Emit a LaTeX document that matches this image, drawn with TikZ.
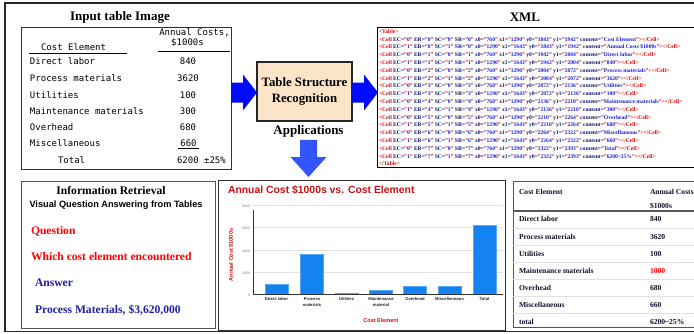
\documentclass[tikz,border=0pt]{standalone}
\usepackage{fontspec}
\setmainfont{Liberation Serif}
\setsansfont{Liberation Sans}
\setmonofont{DejaVu Sans Mono}
\usetikzlibrary{calc}

\definecolor{tagred}{RGB}{224,0,0}
\definecolor{attrnavy}{RGB}{20,20,110}
\definecolor{valblue}{RGB}{30,30,210}
\definecolor{qred}{RGB}{255,0,0}
\definecolor{ansnavy}{RGB}{30,30,160}
\definecolor{peach}{RGB}{252,228,200}
\definecolor{arrowblue}{RGB}{0,10,255}
\definecolor{downblue}{RGB}{50,85,255}
\definecolor{barblue}{RGB}{20,130,240}
\definecolor{chartred}{RGB}{200,16,16}
\definecolor{gridgrey}{RGB}{225,225,225}
\definecolor{boxgrey}{RGB}{85,85,85}
\definecolor{tblink}{RGB}{16,16,40}

% XML listing helpers
\newcommand\xmlattr[2]{{\color{attrnavy}#1=}{\color{tagred}"}{\color{valblue}#2}{\color{tagred}"}}
\newcommand\xmlcell[9]{{\color{tagred}<Cell} \xmlattr{EC}{#1} \xmlattr{ER}{#2} \xmlattr{SC}{#3} \xmlattr{SR}{#4} \xmlattr{x0}{#5} \xmlattr{x1}{#6} \xmlattr{y0}{#7} \xmlattr{y1}{#8} \xmlattr{content}{#9}{\color{tagred}></Cell>}}

\begin{document}
\begin{tikzpicture}[x=1pt,y=-1pt,
  txt/.style={inner sep=0pt,outer sep=0pt},
  frame/.style={draw,inner sep=0pt,outer sep=0pt,anchor=north west},
  title/.style={txt,font=\fontsize{13}{15}\selectfont\bfseries},
  mono/.style={txt,font=\ttfamily\fontsize{9}{11}\selectfont},
  xmltxt/.style={txt,anchor=mid west,font=\fontsize{5.6}{7}\selectfont\bfseries},
  irtxt/.style={txt,anchor=mid west,font=\fontsize{11.6}{14}\selectfont\bfseries},
  rtxt/.style={txt,anchor=mid west,text=tblink,font=\fontsize{7.6}{9}\selectfont\bfseries},
  tick/.style={txt,anchor=mid east,text=gray,font=\sffamily\fontsize{3.5}{4}\selectfont},
  xlab/.style={txt,align=center,text=black!85,font=\sffamily\bfseries\fontsize{4.2}{6}\selectfont},
  bar/.style={fill=barblue,draw=barblue!70!white,line width=0.4pt},
  sidearrow/.style={fill=arrowblue},
  downarrow/.style={fill=downblue}
]
\useasboundingbox (0,0) rectangle (694,333);
\clip (0,0) rectangle (694,333);

% outer frame
\node[frame,line width=1.3pt,draw=black!85,minimum width=715pt,minimum height=328.5pt] (outer) at (5,3) {};

% ---------- input table image ----------
\node[title] (inTitle) at (120,17) {Input table Image};
\node[frame,line width=0.9pt,draw=black!80,minimum width=210pt,minimum height=142pt] (intbl) at (21,27) {};
\node[mono,anchor=mid] (hA) at (194.5,33) {Annual Costs,};
\node[mono,anchor=mid] (hB) at (187.5,43) {\$1000s};
\node[mono,anchor=mid west] (hC) at (41,48) {Cost Element};
\draw[line width=0.8pt] (29,53.5) coordinate (ulA) -- (127,53.5) coordinate (ulB);
\draw[line width=0.8pt] (158,51.5) coordinate (ulC) -- (230,51.5) coordinate (ulD);
\node[mono,anchor=mid west] (r1) at (30,62.5) {Direct labor};
\node[mono,anchor=mid west] (r2) at (30,79.5) {Process materials};
\node[mono,anchor=mid west] (r3) at (30,96.5) {Utilities};
\node[mono,anchor=mid west] (r4) at (30,112.5) {Maintenance materials};
\node[mono,anchor=mid west] (r5) at (30,128.5) {Overhead};
\node[mono,anchor=mid west] (r6) at (30,144.5) {Miscellaneous};
\node[mono,anchor=mid west] (r7) at (58,161.5) {Total};
\node[mono,anchor=mid] (v1) at (188,62) {840};
\node[mono,anchor=mid] (v2) at (188,79) {3620};
\node[mono,anchor=mid] (v3) at (188,96) {100};
\node[mono,anchor=mid] (v4) at (188,112) {300};
\node[mono,anchor=mid] (v5) at (188,128) {680};
\node[mono,anchor=mid] (v6) at (188.5,144) {660};
\node[mono,anchor=mid west] (v7) at (177,161) {6200 ±25\%};
\draw[line width=0.8pt] (178,148.5) coordinate (ulE) -- (199,148.5) coordinate (ulF);

% ---------- recognition step ----------
\node[draw=black!85,line width=1.1pt,fill=peach,minimum width=95pt,minimum height=59pt,
      inner sep=0pt,outer sep=0pt,align=center,
      font=\fontsize{12.8}{16}\selectfont\bfseries] (tsr) at (304.5,91.5) {Table Structure\\Recognition};
\node[txt,font=\fontsize{13}{15}\selectfont\bfseries] (apps) at (308.5,131) {Applications};

% ---------- XML output ----------
\node[title] (xmlTitle) at (525,17) {XML};
\node[frame,line width=0.9pt,draw=black,minimum width=330pt,minimum height=140pt] (xmlbox) at (377,27) {};
\node[xmltxt] (xl0) at (379,30.8) {\color{tagred}<Table>};
\node[xmltxt] (xl1) at (379,38.8) {\xmlcell{0}{0}{0}{0}{760}{1290}{1843}{1942}{Cost Element}};
\node[xmltxt] (xl2) at (379,46.6) {\xmlcell{1}{0}{1}{0}{1290}{1643}{1843}{1942}{Annual Costs \$1000s}};
\node[xmltxt] (xl3) at (379,54.4) {\xmlcell{0}{1}{0}{1}{760}{1290}{1942}{2004}{Direct labor}};
\node[xmltxt] (xl4) at (379,62.2) {\xmlcell{1}{1}{1}{1}{1290}{1643}{1942}{2004}{840}};
\node[xmltxt] (xl5) at (379,70) {\xmlcell{0}{2}{0}{2}{760}{1290}{2004}{2072}{Process materials}};
\node[xmltxt] (xl6) at (379,77.8) {\xmlcell{1}{2}{1}{2}{1290}{1643}{2004}{2072}{3620}};
\node[xmltxt] (xl7) at (379,85.6) {\xmlcell{0}{3}{0}{3}{760}{1290}{2072}{2136}{Utilities}};
\node[xmltxt] (xl8) at (379,93.4) {\xmlcell{1}{3}{1}{3}{1290}{1643}{2072}{2136}{100}};
\node[xmltxt] (xl9) at (379,101.2) {\xmlcell{0}{4}{0}{4}{760}{1290}{2136}{2210}{Maintenance materials}};
\node[xmltxt] (xl10) at (379,109) {\xmlcell{1}{4}{1}{4}{1290}{1643}{2136}{2210}{300}};
\node[xmltxt] (xl11) at (379,116.8) {\xmlcell{0}{5}{0}{5}{760}{1290}{2210}{2264}{Overhead}};
\node[xmltxt] (xl12) at (379,124.6) {\xmlcell{1}{5}{1}{5}{1290}{1643}{2210}{2264}{680}};
\node[xmltxt] (xl13) at (379,132.4) {\xmlcell{0}{6}{0}{6}{760}{1290}{2264}{2322}{Miscellaneous}};
\node[xmltxt] (xl14) at (379,140.2) {\xmlcell{1}{6}{1}{6}{1290}{1643}{2264}{2322}{660}};
\node[xmltxt] (xl15) at (379,148) {\xmlcell{0}{7}{0}{7}{760}{1290}{2322}{2393}{Total}};
\node[xmltxt] (xl16) at (379,155.8) {\xmlcell{1}{7}{1}{7}{1290}{1643}{2322}{2393}{6200\textasciitilde25\%}};
\node[xmltxt] (xl17) at (379,163.3) {\color{tagred}</Table>};

% ---------- information retrieval panel ----------
\node[frame,line width=1pt,draw=boxgrey,minimum width=194pt,minimum height=147pt] (irbox) at (21,181) {};
\node[txt,font=\fontsize{11.6}{14}\selectfont\bfseries] (irTitle) at (111,190) {Information Retrieval};
\node[txt,font=\sffamily\bfseries\fontsize{9.2}{11}\selectfont] (irSub) at (116,205) {Visual Question Answering from Tables};
\node[irtxt,text=qred] (q1) at (31,232) {Question};
\node[irtxt,text=qred] (q2) at (31,258) {Which cost element encountered};
\node[irtxt,text=ansnavy] (a1) at (35,284) {Answer};
\node[irtxt,text=ansnavy] (a2) at (35,311) {Process Materials, \$3,620,000};

% ---------- bar chart panel ----------
\node[frame,line width=1pt,draw=black!80,minimum width=287pt,minimum height=150pt] (chart) at (218,180) {};
\node[txt,anchor=mid west,text=chartred,font=\sffamily\bfseries\fontsize{10.4}{12}\selectfont] (chTitle) at (228,191) {Annual Cost \$1000s vs. Cost Element};
\foreach \v/\yy in {8000/205,6000/227,4000/250,2000/272}{
  \draw[gridgrey,line width=0.6pt] (253,\yy) -- (503,\yy);
  \node[tick] (t\v) at (250,\yy) {\v};
}
\node[tick] (t0) at (250,294) {0};
\foreach \cx/\val in {276.5/840,312/3620,346.5/100,381/300,415/680,449.5/660,484.5/6200}{
  \fill[bar] (\cx-11.5,294) rectangle (\cx+11.5,{294-\val*0.011125});
}
\draw[black!80,line width=0.8pt] (253,210) coordinate (axTop) -- (253,294) coordinate (axO) -- (503,294) coordinate (axEnd);
\node[xlab,anchor=north] (xl-a) at (276.5,297.5) {Direct labor};
\node[xlab,anchor=north] (xl-b) at (312,297.5) {Process\\materials};
\node[xlab,anchor=north] (xl-c) at (346.5,297.5) {Utilities};
\node[xlab,anchor=north] (xl-d) at (381,297.5) {Maintenance\\material};
\node[xlab,anchor=north] (xl-e) at (415,297.5) {Overhead};
\node[xlab,anchor=north] (xl-f) at (449.5,297.5) {Miscellaneous};
\node[xlab,anchor=north] (xl-g) at (484.5,297.5) {Total};
\node[txt,text=chartred,font=\sffamily\bfseries\fontsize{5.5}{7}\selectfont] (xTitle) at (381,321) {Cost Element};
\node[txt,text=chartred,rotate=90,font=\sffamily\bfseries\fontsize{5.5}{7}\selectfont] (yTitle) at (231,255) {Annual Cost \$1000s};

% ---------- rendered table panel ----------
\node[frame,line width=1pt,draw=boxgrey,minimum width=200pt,minimum height=146pt] (rtbl) at (513,181) {};
\node[rtxt] (rh1) at (519,192) {Cost Element};
\node[rtxt] (rh2) at (650,192) {Annual Costs};
\node[rtxt] (rh3) at (650,206) {\$1000s};
\draw[black!65,line width=1.4pt] (513,211) coordinate (hl1) -- (700,211) coordinate (hl2);
\foreach \yy in {228,245.5,262.5,279.5,296.5,313.5}{
  \draw[gridgrey,line width=0.6pt] (513,\yy) -- (700,\yy);
}
\node[rtxt] (rl1) at (519,219) {Direct labor};
\node[rtxt] (rl2) at (519,237) {Process materials};
\node[rtxt] (rl3) at (519,254) {Utilities};
\node[rtxt] (rl4) at (519,271) {Maintenance materials};
\node[rtxt] (rl5) at (519,288) {Overhead};
\node[rtxt] (rl6) at (519,305) {Miscellaneous};
\node[rtxt] (rl7) at (519,322) {total};
\node[rtxt] (rv1) at (650,219) {840};
\node[rtxt] (rv2) at (650,237) {3620};
\node[rtxt] (rv3) at (650,254) {100};
\node[rtxt,text=qred] (rv4) at (650,271) {1000};
\node[rtxt] (rv5) at (650,288) {680};
\node[rtxt] (rv6) at (650,305) {660};
\node[rtxt] (rv7) at (650,322) {6200\textasciitilde25\%};

% ---------- block arrows ----------
\fill[sidearrow] let \p1=(intbl.east), \p2=(tsr.west) in
  (\x1,\y2+9pt) -- (\x2-14pt,\y2+9pt) -- (\x2-14pt,\y2+17pt) -- (\x2,\y2-1pt)
  -- (\x2-14pt,\y2-19pt) -- (\x2-14pt,\y2-11pt) -- (\x1,\y2-11pt) -- cycle;
\fill[sidearrow] let \p1=(tsr.east), \p2=(xmlbox.west) in
  (\x1,\y1+9pt) -- (\x2-13pt,\y1+9pt) -- (\x2-13pt,\y1+17pt) -- (\x2+1pt,\y1-1pt)
  -- (\x2-13pt,\y1-19pt) -- (\x2-13pt,\y1-11pt) -- (\x1,\y1-11pt) -- cycle;
\fill[downarrow] let \p1=(apps.south), \p2=(chart.north) in
  (\x1-8.5pt,\y1-3pt) -- (\x1+8.5pt,\y1-3pt) -- (\x1+8.5pt,\y2+23pt) -- (\x1+18pt,\y2+23pt)
  -- (\x1,\y2+3pt) -- (\x1-18pt,\y2+23pt) -- (\x1-8.5pt,\y2+23pt) -- cycle;
\end{tikzpicture}
\end{document}
